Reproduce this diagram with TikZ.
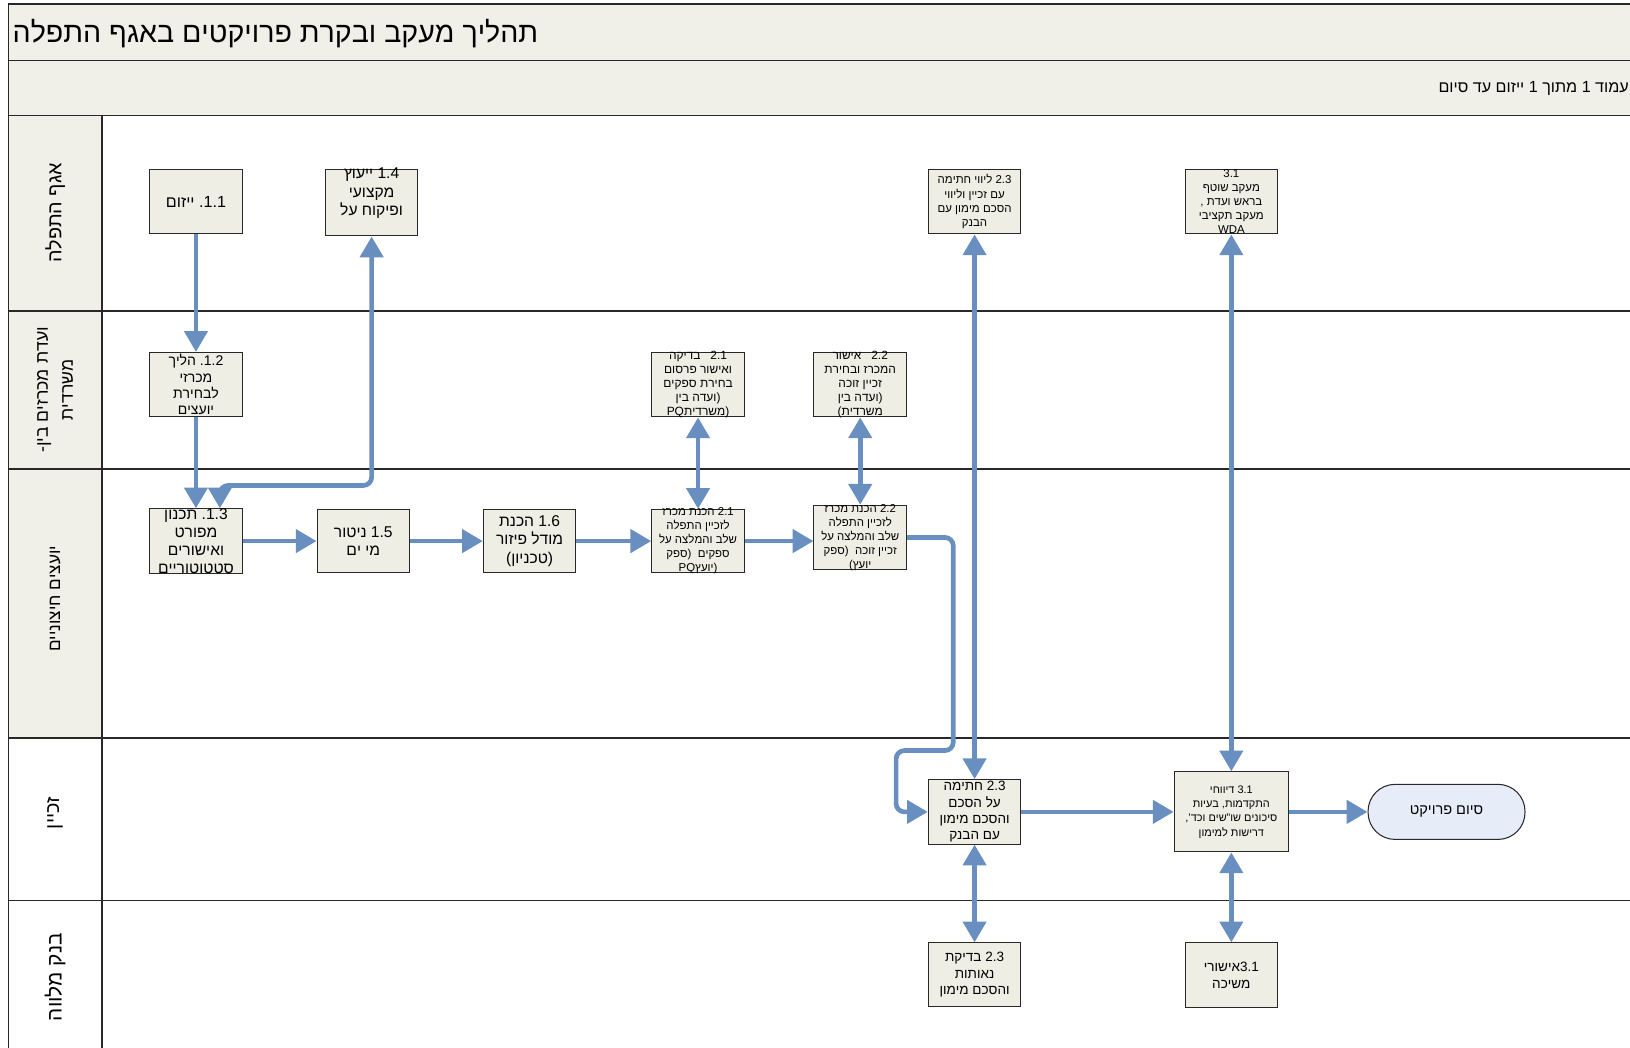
\documentclass[tikz,border=0pt]{standalone}
\usepackage{fontspec}
\setmainfont{Liberation Sans}
\TeXXeTstate=1
\usetikzlibrary{arrows.meta}
\definecolor{flowblue}{RGB}{104,143,192}
\definecolor{boxfill}{RGB}{238,238,228}
\definecolor{bandfill}{RGB}{240,240,232}
\definecolor{endfill}{RGB}{230,236,248}
\definecolor{rulecol}{RGB}{40,40,40}
\newcommand\fs[2]{\fontsize{#1}{#2}\selectfont}
\tikzset{
  task/.style={draw=rulecol, line width=1pt, fill=boxfill, minimum width=89pt,
    minimum height=62pt, inner sep=0pt},
  txt/.style={align=center, text=black, inner sep=0pt},
  tip/.tip={Triangle[length=20pt,width=22pt]},
  flow/.style={draw=flowblue, line width=4.5pt, -tip},
  flowtwo/.style={draw=flowblue, line width=4.5pt, tip-tip},
  lane/.style={draw=rulecol, line width=1.4pt},
  lanelabel/.style={rotate=90, align=center, inner sep=0pt, text=black},
}
\begin{document}
\begin{tikzpicture}[x=1pt,y=-1pt]
\useasboundingbox (0,0) rectangle (1568,1008);
\begin{scope}
\clip (0,0) rectangle (1568,1008);
% title and page bands
\fill[bandfill] (8,4) rectangle (1600,111);
\fill[bandfill] (8,111) rectangle (98,710);
\draw[lane] (8,4) -- (1600,4);
\draw[lane] (8,58) -- (1600,58);
\draw[lane] (8,111) -- (1600,111);
\draw[lane] (8,4) -- (8,1030);
\draw[lane] (98,111) -- (98,1030);
\foreach \yy in {299,451,710,866} \draw[lane] (8,\yy) -- (1600,\yy);
\node[txt, anchor=west, font=\fs{27.5}{32}] (title) at (12,32)
  {\beginR תהליך מעקב ובקרת פרויקטים באגף התפלה\endR};
\node[txt, anchor=east, font=\fs{15.5}{18}] (page) at (1567,85)
  {\beginR עמוד 1 מתוך 1 ייזום עד סיום\endR};

% swimlane labels
\node[lanelabel, font=\fs{19}{22}] (lane1) at (53,205) {\beginR אגף התפלה\endR};
\node[lanelabel, font=\fs{17}{24}] (lane2) at (53,375)
  {\beginR ועדת מכרזים בין-\endR\\\beginR משרדית\endR};
\node[lanelabel, font=\fs{16.5}{18}] (lane3) at (53,576) {\beginR יועצים חיצוניים\endR};
\node[lanelabel, font=\fs{19}{22}] (lane4) at (53,782) {\beginR זכיין\endR};
\node[lanelabel, font=\fs{20}{24}] (lane5) at (53,940) {\beginR בנק מלווה\endR};

% process steps
\node[task, label={[txt,font=\fs{15.5}{18}]center:{\beginR .1.1 ייזום\endR}}] (n11) at (188.5,194) {};
\node[task, minimum height=64pt, label={[txt,font=\fs{15}{18},yshift=9pt]center:{\beginR 1.4 ייעוץ\endR\\\beginR מקצועי\endR\\\beginR ופיקוח על\endR}}] (n14) at (357.5,195) {};
\node[task, label={[txt,font=\fs{11}{13.7}]center:{\beginR 2.3 ליווי חתימה\endR\\\beginR עם זכיין וליווי\endR\\\beginR הסכם מימון עם\endR\\\beginR הבנק\endR}}] (n23a) at (937.5,194) {};
\node[task, label={[txt,font=\fs{11}{13.5}]center:{\beginR 3.1\endR\\\beginR מעקב שוטף\endR\\\beginR בראש ועדת ,\endR\\\beginR מעקב תקציבי\endR\\\beginR WDA\endR}}] (n31a) at (1184.5,194) {};

\node[task, label={[txt,font=\fs{13.5}{15.7}]center:{\beginR .1.2 הליך\endR\\\beginR מכרזי\endR\\\beginR לבחירת\endR\\\beginR יועצים\endR}}] (n12) at (188.5,370) {};
\node[task, label={[txt,font=\fs{11.5}{13.5}]center:{\beginR 2.1\ \ \ בדיקה\endR\\\beginR ואישור פרסום\endR\\\beginR בחירת ספקים\endR\\\beginR (ועדה בין\endR\\\beginR PQמשרדית)\endR}}] (n21a) at (671.5,370) {};
\node[task, label={[txt,font=\fs{11.5}{13.5}]center:{\beginR 2.2\ \ \ אישור\endR\\\beginR המכרז ובחירת\endR\\\beginR זכיין זוכה\endR\\\beginR (ועדה בין\endR\\\beginR משרדית)\endR}}] (n22a) at (827.5,370) {};

\node[task, label={[txt,font=\fs{15}{17.5}]center:{\beginR .1.3 תכנון\endR\\\beginR מפורט\endR\\\beginR ואישורים\endR\\\beginR סטטוטוריים\endR}}] (n13) at (188.5,520.5) {};
\node[task, minimum height=61pt, label={[txt,font=\fs{15}{18}]center:{\beginR 1.5 ניטור\endR\\\beginR מי ים\endR}}] (n15) at (349.5,520.5) {};
\node[task, minimum height=61pt, label={[txt,font=\fs{15}{18}]center:{\beginR 1.6 הכנת\endR\\\beginR מודל פיזור\endR\\\beginR (טכניון)\endR}}] (n16) at (509.5,520.5) {};
\node[task, minimum height=61pt, label={[txt,font=\fs{11}{13.5}]center:{\beginR 2.1 הכנת מכרז\endR\\\beginR לזכיין התפלה\endR\\\beginR שלב והמלצה על\endR\\\beginR ספקים\ \ (ספק\endR\\\beginR PQיועץ)\endR}}] (n21b) at (671.5,520.5) {};
\node[task, label={[txt,font=\fs{11}{13.5}]center:{\beginR 2.2 הכנת מכרז\endR\\\beginR לזכיין התפלה\endR\\\beginR שלב והמלצה על\endR\\\beginR זכיין זוכה\ \ (ספק\endR\\\beginR יועץ)\endR}}] (n22b) at (827.5,517) {};

\node[task, label={[txt,font=\fs{13}{15.7}]center:{\beginR 2.3 חתימה\endR\\\beginR על הסכם\endR\\\beginR והסכם מימון\endR\\\beginR עם הבנק\endR}}] (n23b) at (937.5,781) {};
\node[task, minimum width=110pt, minimum height=77pt, label={[txt,font=\fs{10.5}{13.7}]center:{\beginR 3.1 דיווחי\endR\\\beginR התקדמות, בעיות\endR\\\beginR סיכונים שו"שים וכד',\endR\\\beginR דרישות למימון\endR}}] (n31b) at (1184.5,781) {};
\node[draw=rulecol, line width=1pt, fill=endfill, rounded corners=26pt, minimum width=151pt,
  minimum height=53pt, inner sep=0pt, font=\fs{14}{16}] (nend) at (1391.5,781) {\beginR סיום פרויקט\endR};

\node[task, minimum height=61pt, label={[txt,font=\fs{13}{16}]center:{\beginR 2.3 בדיקת\endR\\\beginR נאותות\endR\\\beginR והסכם מימון\endR}}] (n23c) at (937.5,937.5) {};
\node[task, label={[txt,font=\fs{13}{16}]center:{\beginR 3.1אישורי\endR\\\beginR משיכה\endR}}] (n31c) at (1184.5,938) {};

% connectors
\draw[flow] (n11) -- (n12);
\draw[flow] (n12) -- (n13);
\draw[flowtwo, rounded corners=8pt] ([xshift=23pt]n13.north) -- ++(0,-22) -| (n14.south);
\draw[flow] (n13) -- (n15);
\draw[flow] (n15) -- (n16);
\draw[flow] (n16) -- (n21b);
\draw[flow] (n21b.east) -- (n21b.east -| n22b.west);
\draw[flowtwo] (n21a) -- (n21b);
\draw[flowtwo] (n22a) -- (n22b);
\coordinate (bendA) at (917,722);
\coordinate (bendB) at (862,722);
\draw[flow, rounded corners=8pt] (n22b.east) -| (bendA) -- (bendB) |- (n23b.west);
\draw[flowtwo] (n23a) -- (n23b);
\draw[flowtwo] (n31a) -- (n31b);
\draw[flow] (n23b) -- (n31b);
\draw[flow] (n31b) -- (nend);
\draw[flowtwo] (n23b) -- (n23c);
\draw[flowtwo] (n31b) -- (n31c);
\end{scope}
\end{tikzpicture}
\end{document}
